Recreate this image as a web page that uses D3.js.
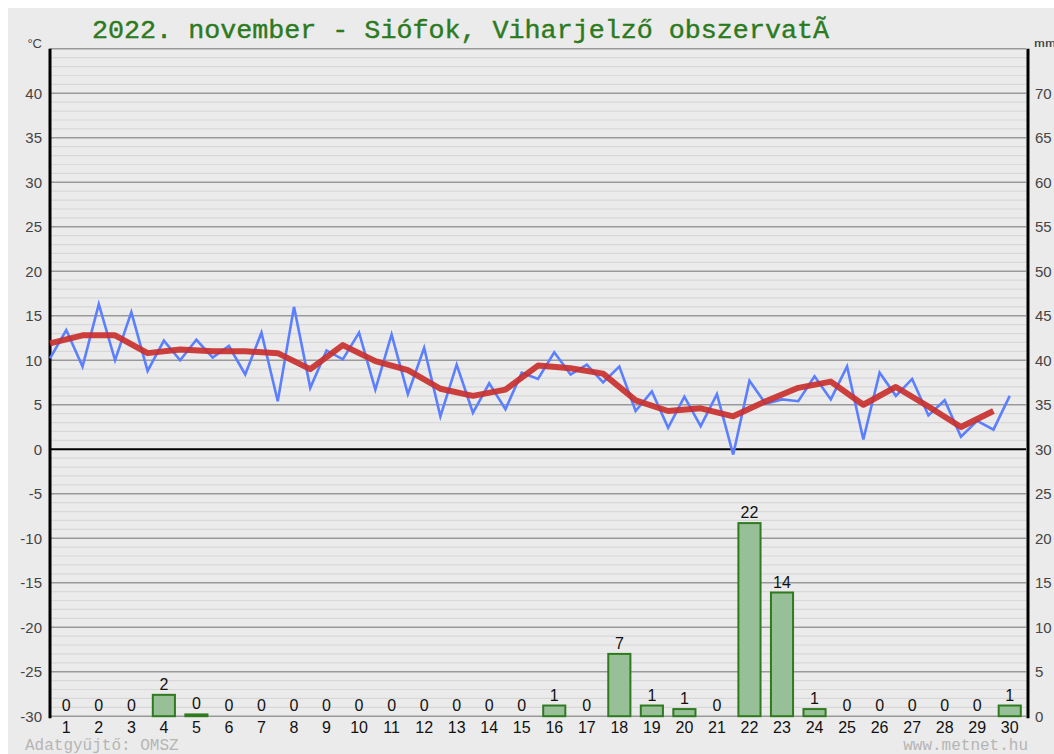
<!DOCTYPE html>
<html>
<head>
<meta charset="utf-8">
<script src="https://cdn.jsdelivr.net/npm/d3@7"></script>
<style>
  html, body { margin: 0; padding: 0; background: #ffffff; }
  svg { display: block; }
</style>
</head>
<body>
<svg id="chart" width="1054" height="754"></svg>
<script>
// ---- data ----
const titleText = "2022. november - Siófok, Viharjelző obszervatÃ";
const days = [1,2,3,4,5,6,7,8,9,10,11,12,13,14,15,16,17,18,19,20,21,22,23,24,25,26,27,28,29,30];
const tMin = [10.2, 9.3, 10.0, 8.8, 10.0, 10.3, 8.4, 5.4, 6.9, 10.1, 6.7, 6.2, 3.7, 4.1, 4.5, 7.9, 8.4, 7.5, 4.3, 2.4, 2.6, -0.6, 5.1, 5.4, 5.6, 1.1, 6.0, 3.8, 1.4, 2.2];
const tMax = [13.4, 16.3, 15.4, 12.2, 12.3, 11.6, 13.1, 16.0, 11.1, 13.1, 12.9, 11.4, 9.5, 7.4, 8.6, 10.9, 9.5, 9.3, 6.5, 5.9, 6.2, 7.7, 5.6, 8.2, 9.3, 8.6, 7.9, 5.5, 3.2, 6.0];
const tMean = [11.9, 12.8, 12.8, 10.8, 11.2, 11.0, 11.0, 10.8, 9.0, 11.7, 9.9, 8.9, 6.8, 6.0, 6.7, 9.4, 9.1, 8.5, 5.5, 4.3, 4.6, 3.7, 5.4, 6.9, 7.6, 5.0, 7.0, 4.8, 2.5, 4.3];
const precip = [0, 0, 0, 2.4, 0.2, 0, 0, 0, 0, 0, 0, 0, 0, 0, 0, 1.2, 0, 7.0, 1.2, 0.8, 0, 21.7, 13.9, 0.8, 0, 0, 0, 0, 0, 1.2];
const leftTicks = [-30, -25, -20, -15, -10, -5, 0, 5, 10, 15, 20, 25, 30, 35, 40];
const rightTicks = [0, 5, 10, 15, 20, 25, 30, 35, 40, 45, 50, 55, 60, 65, 70];
const leftUnit = "°C";
const rightUnit = "mm";
const footLeft = "Adatgyűjtő: OMSZ";
const footRight = "www.metnet.hu";

// ---- layout ----
const W = 1054, H = 754;
const plot = { left: 50, right: 1026, top: 48.8, bottom: 716.2 };
const svg = d3.select("#chart");

svg.append("rect").attr("x", 8).attr("y", 8).attr("width", W - 8).attr("height", H - 8)
  .attr("fill", "#ebebeb");

const y = d3.scaleLinear().domain([-30, 45]).range([plot.bottom, plot.top]);
const yR = d3.scaleLinear().domain([0, 75]).range([plot.bottom, plot.top]);
const x = d3.scaleBand().domain(days).range([plot.left, plot.right]).padding(0);
const bw = x.bandwidth();

// minor grid (every 1 unit)
const minor = d3.range(-30, 46, 1).filter(v => v % 5 !== 0);
svg.append("g").selectAll("line").data(minor).join("line")
  .attr("x1", plot.left).attr("x2", plot.right)
  .attr("y1", d => y(d)).attr("y2", d => y(d))
  .attr("stroke", "#d8d8d8").attr("stroke-width", 1.2);

// major grid
const major = d3.range(-30, 46, 5);
svg.append("g").selectAll("line").data(major).join("line")
  .attr("x1", plot.left).attr("x2", plot.right)
  .attr("y1", d => y(d)).attr("y2", d => y(d))
  .attr("stroke", d => d === 0 ? "#000" : "#999")
  .attr("stroke-width", d => d === 0 ? 2 : 1.5);

// left axis
const leftAxis = d3.axisLeft(y).tickValues(leftTicks).tickSize(0).tickPadding(8).tickFormat(d3.format("d"));
const gL = svg.append("g").attr("transform", `translate(${plot.left},0)`).call(leftAxis);
gL.select(".domain").remove();
gL.selectAll("text").attr("font-family", "Liberation Sans, Arial, sans-serif")
  .attr("font-size", 15).attr("fill", "#444").text(d => String(d));
svg.append("line").attr("x1", plot.left).attr("x2", plot.left)
  .attr("y1", plot.top).attr("y2", plot.bottom + 2).attr("stroke", "#000").attr("stroke-width", 3);

// right axis
const rightAxis = d3.axisRight(yR).tickValues(rightTicks).tickSize(0).tickPadding(8).tickFormat(d3.format("d"));
const gR = svg.append("g").attr("transform", `translate(${plot.right + 1},0)`).call(rightAxis);
gR.select(".domain").remove();
gR.selectAll("text").attr("font-family", "Liberation Sans, Arial, sans-serif")
  .attr("font-size", 15).attr("fill", "#444");
svg.append("line").attr("x1", plot.right + 2).attr("x2", plot.right + 2)
  .attr("y1", plot.top).attr("y2", plot.bottom + 2).attr("stroke", "#000").attr("stroke-width", 3);

// unit labels
svg.append("text").attr("x", 42).attr("y", 48).attr("text-anchor", "end")
  .attr("font-family", "Liberation Sans, Arial, sans-serif").attr("font-size", 13).attr("fill", "#444")
  .text(leftUnit);
svg.append("text").attr("x", 1034).attr("y", 47)
  .attr("font-family", "Liberation Mono, monospace").attr("font-size", 11).attr("fill", "#444")
  .attr("textLength", 22).attr("lengthAdjust", "spacingAndGlyphs")
  .text(rightUnit);

// precipitation bars
const barW = bw * 0.68;
svg.append("g").selectAll("rect").data(days).join("rect")
  .attr("x", d => x(d) + bw / 2 - barW / 2)
  .attr("width", barW)
  .attr("y", (d, i) => yR(precip[i]))
  .attr("height", (d, i) => yR(0) - yR(precip[i]))
  .attr("fill", "#98c098").attr("stroke", "#2f7a1f").attr("stroke-width", 2);

// bar value labels
svg.append("g").selectAll("text").data(days).join("text")
  .attr("x", d => x(d) + bw / 2)
  .attr("y", (d, i) => yR(precip[i]) - 5)
  .attr("text-anchor", "middle")
  .attr("font-family", "Liberation Sans, Arial, sans-serif").attr("font-size", 16).attr("fill", "#111")
  .text((d, i) => Math.round(precip[i]));

// day labels
const xAxis = d3.axisBottom(x).tickSize(0).tickPadding(5);
const gX = svg.append("g").attr("transform", `translate(0,${plot.bottom})`).call(xAxis);
gX.select(".domain").remove();
gX.selectAll("text").attr("font-family", "Liberation Sans, Arial, sans-serif")
  .attr("font-size", 16).attr("fill", "#111");

// temperature min/max line (min at day start, max at day middle)
const zig = [];
days.forEach((d, i) => {
  zig.push([x(d), tMin[i]]);
  zig.push([x(d) + bw / 2, tMax[i]]);
});
svg.append("path").datum(zig)
  .attr("fill", "none").attr("stroke", "#5b7fff").attr("stroke-width", 2.6)
  .attr("stroke-linejoin", "miter")
  .attr("d", d3.line().x(p => p[0]).y(p => y(p[1])));

// mean temperature line
svg.append("path").datum(days.map((d, i) => [x(d), tMean[i]]))
  .attr("fill", "none").attr("stroke", "#c8302e").attr("stroke-width", 6)
  .attr("stroke-opacity", 0.92).attr("stroke-linejoin", "round")
  .attr("d", d3.line().x(p => p[0]).y(p => y(p[1])));

// title
svg.append("text").attr("x", 92).attr("y", 38)
  .attr("font-family", "Liberation Mono, Courier New, monospace").attr("font-size", 26)
  .attr("fill", "#2b7a1e").attr("stroke", "#2b7a1e").attr("stroke-width", 0.4)
  .attr("textLength", 737).attr("lengthAdjust", "spacingAndGlyphs")
  .text(titleText);

// footers
svg.append("text").attr("x", 25).attr("y", 750)
  .attr("font-family", "Liberation Mono, Courier New, monospace").attr("font-size", 16)
  .attr("fill", "#b5b5b5").text(footLeft);
svg.append("text").attr("x", 1028).attr("y", 750).attr("text-anchor", "end")
  .attr("font-family", "Liberation Mono, Courier New, monospace").attr("font-size", 16)
  .attr("fill", "#b5b5b5").text(footRight);
</script>
</body>
</html>
